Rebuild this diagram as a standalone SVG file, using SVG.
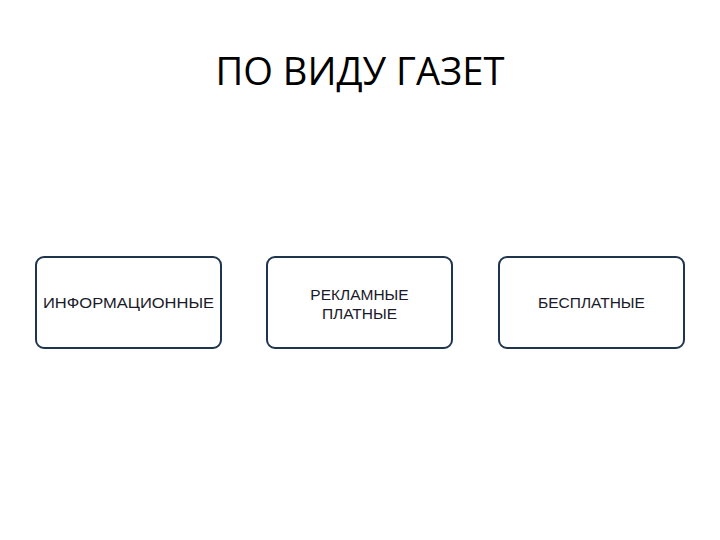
<svg xmlns="http://www.w3.org/2000/svg" width="720" height="540" viewBox="0 0 720 540">
<style>
.box{fill:#ffffff;stroke:#1f344d;stroke-width:2}
.lbl{font-family:"Liberation Sans",Arial,sans-serif;font-size:15.5px;fill:#1a1a2a;text-anchor:middle}
.title{font-family:"Open Sans","Liberation Sans",sans-serif;font-size:38px;fill:#000;text-anchor:middle}
</style>
<rect width="720" height="540" fill="#fff"/>
<text class="title" x="360" y="85" textLength="289" lengthAdjust="spacingAndGlyphs">ПО ВИДУ ГАЗЕТ</text>
<g id="connectors"></g>
<g id="node1">
<rect class="box" x="36" y="257" width="185" height="91" rx="8"/>
<text class="lbl" x="128.5" y="308" textLength="171" lengthAdjust="spacingAndGlyphs">ИНФОРМАЦИОННЫЕ</text>
</g>
<g id="node2">
<rect class="box" x="267" y="257" width="185" height="91" rx="8"/>
<text class="lbl" x="359.5" y="300">РЕКЛАМНЫЕ<tspan x="359.5" dy="19">ПЛАТНЫЕ</tspan></text>
</g>
<g id="node3">
<rect class="box" x="499" y="257" width="185" height="91" rx="8"/>
<text class="lbl" x="591.5" y="308">БЕСПЛАТНЫЕ</text>
</g>
</svg>
